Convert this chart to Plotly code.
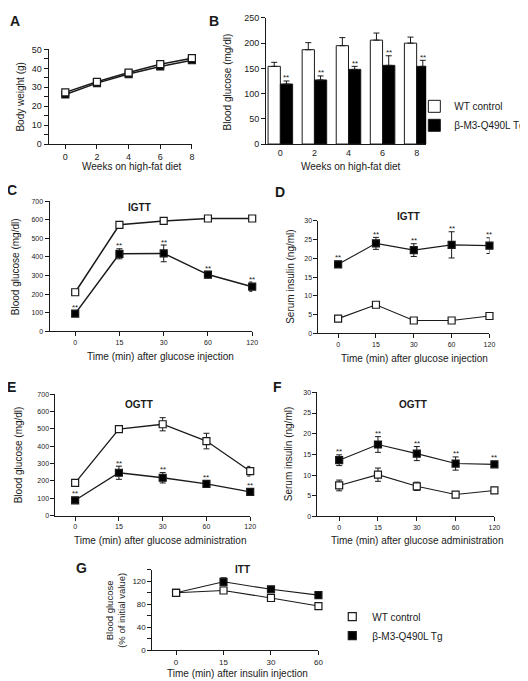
import plotly.graph_objects as go

W, H = 528, 681
FONT = "Liberation Sans, Arial, Helvetica, sans-serif"
INK = "#1a1a1a"

# ---------------- data ----------------
# A: body weight
weeks = [0, 2, 4, 6, 8]
bw_wt = [27.3, 32.9, 37.8, 42.2, 45.4]
bw_tg = [26.2, 32.2, 37.0, 41.0, 44.3]

# B: fasting blood glucose
bg_wt = [154, 187, 195, 206, 200]
bg_wt_err = [8, 14, 16, 14, 12]
bg_tg = [119, 127, 148, 156, 154]
bg_tg_err = [6, 8, 6, 19, 12]
bg_sig = ["**", "**", "**", "**", "**"]

gtt_times = ["0", "15", "30", "60", "120"]
itt_times = ["0", "15", "30", "60"]

# C: IGTT blood glucose
igtt_glu_wt = [210, 573, 594, 607, 607]
igtt_glu_wt_err = [15, 15, 8, 8, 8]
igtt_glu_tg = [95, 417, 419, 305, 240]
igtt_glu_tg_err = [8, 27, 45, 17, 25]
igtt_glu_sig = ["**", "**", "**", "**", "**"]

# D: IGTT serum insulin
igtt_ins_wt = [3.9, 7.6, 3.4, 3.4, 4.6]
igtt_ins_wt_err = [0.4, 0.5, 0.3, 0.3, 0.4]
igtt_ins_tg = [18.4, 24.0, 22.2, 23.6, 23.4]
igtt_ins_tg_err = [0.8, 1.6, 1.7, 3.5, 2.1]
igtt_ins_sig = ["**", "**", "**", "**", "**"]

# E: OGTT blood glucose
ogtt_glu_wt = [188, 499, 527, 430, 256]
ogtt_glu_wt_err = [10, 8, 38, 45, 28]
ogtt_glu_tg = [88, 247, 218, 183, 137]
ogtt_glu_tg_err = [10, 38, 30, 18, 10]
ogtt_glu_sig = ["**", "**", "**", "**", "**"]

# F: OGTT serum insulin
ogtt_ins_wt = [7.5, 10.1, 7.3, 5.3, 6.3]
ogtt_ins_wt_err = [1.3, 1.6, 1.0, 0.3, 0.6]
ogtt_ins_tg = [13.6, 17.4, 15.2, 12.8, 12.6]
ogtt_ins_tg_err = [1.3, 1.9, 1.7, 1.6, 0.7]
ogtt_ins_sig = ["**", "**", "**", "**", "**"]

# G: ITT
itt_wt = [100, 104, 91, 77]
itt_wt_err = [3, 3, 3, 6]
itt_tg = [100, 119, 106, 96]
itt_tg_err = [3, 7, 4, 3]

names = ["WT control", "β-M3-Q490L Tg"]

# ---------------- helpers ----------------
def xd(a, b):
    return [a / W, b / W]

def yd(top, bottom):
    return [1 - bottom / H, 1 - top / H]

fig = go.Figure()
annotations = []

def axname(n, kind):
    return kind if n == 1 else f"{kind}{n}"

def ann(text, xpx, ypx, size, bold=False, angle=0, xanchor="center"):
    annotations.append(dict(
        text=f"<b>{text}</b>" if bold else text, x=xpx / W, y=1 - ypx / H,
        xref="paper", yref="paper", showarrow=False, textangle=angle,
        xanchor=xanchor, yanchor="middle",
        font=dict(family=FONT, size=size, color=INK)))

def axis_style(tsize):
    return dict(showline=True, linecolor=INK, linewidth=1, ticks="outside",
                ticklen=4, tickwidth=1, tickcolor=INK, showgrid=False,
                zeroline=False, tickfont=dict(family=FONT, size=tsize, color=INK))

panel_geo = {}

def panel(n, xpx, ypx, xr, yr, tsize, xtickvals=None, xticktext=None,
          ydtick=None, yminor=None, xticks=True):
    xa = axis_style(tsize)
    xa.update(domain=xd(*xpx), range=xr, anchor=axname(n, "y"))
    if xtickvals is not None:
        xa.update(tickmode="array", tickvals=xtickvals, ticktext=xticktext)
    if not xticks:
        xa.update(ticks="")
    ya = axis_style(tsize)
    ya.update(domain=yd(*ypx), range=yr, anchor=axname(n, "x"))
    if ydtick is not None:
        ya.update(dtick=ydtick, tick0=0)
    if yminor is not None:
        ya.update(minor=dict(dtick=yminor, ticks="outside", ticklen=4,
                             tickcolor=INK, tickwidth=1))
    fig.update_layout({"xaxis" + ("" if n == 1 else str(n)): xa,
                       "yaxis" + ("" if n == 1 else str(n)): ya})
    panel_geo[n] = (ypx[1] - ypx[0]) / (yr[1] - yr[0])  # px per unit

def line_pair(n, nx, wt, wte, tg, tge, lw, msize=7):
    xs = list(range(nx))
    for vals, errs, fill in [(tg, tge, "black"), (wt, wte, "white")]:
        eb = dict(type="data", array=errs, color=INK, thickness=1, width=3) \
            if errs is not None else dict(visible=False)
        fig.add_trace(go.Scatter(
            x=xs, y=vals, mode="lines+markers", error_y=eb,
            line=dict(color=INK, width=lw),
            marker=dict(symbol="square", size=msize, color=fill,
                        line=dict(color=INK, width=1.2)),
            xaxis=axname(n, "x"), yaxis=axname(n, "y"),
            showlegend=False, cliponaxis=False, hoverinfo="skip"))

def stars(n, xs, vals, errs, sig, half_px=3.5, shift=3):
    ppu = panel_geo[n]
    for x, v, e, s in zip(xs, vals, errs, sig):
        if not s:
            continue
        top = v + max(e, half_px / ppu)
        annotations.append(dict(
            text=s, x=x, y=top, xref=axname(n, "x"), yref=axname(n, "y"),
            showarrow=False, yanchor="middle", yshift=shift,
            font=dict(family=FONT, size=8, color=INK)))

# ---------------- Panel A ----------------
panel(1, (41, 186), (37, 133), [-1.06, 8], [0, 50], 9,
      xtickvals=weeks, xticktext=[str(w) for w in weeks], ydtick=10, yminor=5)
fig.add_trace(go.Scatter(x=weeks, y=bw_tg, mode="lines+markers",
                         line=dict(color=INK, width=1.5),
                         marker=dict(symbol="square", size=7, color="black",
                                     line=dict(color=INK, width=1.2)),
                         xaxis="x", yaxis="y", showlegend=False, cliponaxis=False))
fig.add_trace(go.Scatter(x=weeks, y=bw_wt, mode="lines+markers",
                         line=dict(color=INK, width=1.5),
                         marker=dict(symbol="square", size=7, color="white",
                                     line=dict(color=INK, width=1.2)),
                         xaxis="x", yaxis="y", showlegend=False, cliponaxis=False))

# ---------------- Panel B ----------------
BARGAP = 0.28
bx = list(range(len(weeks)))
panel(2, (261, 423), (5, 133), [-0.42, 4.28], [0, 250], 9,
      xtickvals=bx, xticktext=[str(w) for w in weeks], ydtick=50, xticks=False)
for vals, errs, fill, nm in [(bg_wt, bg_wt_err, "white", names[0]),
                             (bg_tg, bg_tg_err, "black", names[1])]:
    fig.add_trace(go.Bar(
        x=bx, y=vals, name=nm, legend="legend",
        marker=dict(color=fill, line=dict(color=INK, width=1)),
        error_y=dict(type="data", array=errs, arrayminus=[0] * len(errs),
                     symmetric=False, color=INK, thickness=1, width=3),
        xaxis="x2", yaxis="y2", hoverinfo="skip"))
off = (1 - BARGAP) / 4
stars(2, [i + off for i in bx], bg_tg, bg_tg_err, bg_sig, half_px=0, shift=3)

# ---------------- Panel C ----------------
panel(3, (42, 247), (191, 323), [-0.58, 4], [0, 700], 7,
      xtickvals=list(range(5)), xticktext=gtt_times, ydtick=100)
line_pair(3, 5, igtt_glu_wt, igtt_glu_wt_err, igtt_glu_tg, igtt_glu_tg_err, 1.5)
stars(3, range(5), igtt_glu_tg, igtt_glu_tg_err, igtt_glu_sig)

# ---------------- Panel D ----------------
panel(4, (314, 487), (211, 325), [-0.52, 4], [0, 30], 7,
      xtickvals=list(range(5)), xticktext=gtt_times, ydtick=5)
line_pair(4, 5, igtt_ins_wt, igtt_ins_wt_err, igtt_ins_tg, igtt_ins_tg_err, 1.1)
stars(4, range(5), igtt_ins_tg, igtt_ins_tg_err, igtt_ins_sig)

# ---------------- Panel E ----------------
panel(5, (48, 245), (387, 510), [-0.45, 4], [0, 700], 7,
      xtickvals=list(range(5)), xticktext=gtt_times, ydtick=100)
line_pair(5, 5, ogtt_glu_wt, ogtt_glu_wt_err, ogtt_glu_tg, ogtt_glu_tg_err, 1.3)
stars(5, range(5), ogtt_glu_tg, ogtt_glu_tg_err, ogtt_glu_sig)

# ---------------- Panel F ----------------
panel(6, (313, 492), (385, 511), [-0.56, 4], [0, 30], 7,
      xtickvals=list(range(5)), xticktext=gtt_times, ydtick=5)
line_pair(6, 5, ogtt_ins_wt, ogtt_ins_wt_err, ogtt_ins_tg, ogtt_ins_tg_err, 1.1)
stars(6, range(5), ogtt_ins_tg, ogtt_ins_tg_err, ogtt_ins_sig)

# ---------------- Panel G ----------------
panel(7, (146, 314), (565, 647), [-0.5, 3], [0, 140], 8,
      xtickvals=list(range(4)), xticktext=itt_times, ydtick=40, yminor=20)
line_pair(7, 4, itt_wt, itt_wt_err, itt_tg, itt_tg_err, 1.1)
for nm, fill in [(names[0], "white"), (names[1], "black")]:
    fig.add_trace(go.Scatter(x=[None], y=[None], mode="markers", name=nm,
                             legend="legend2",
                             marker=dict(symbol="square", size=8, color=fill,
                                         line=dict(color=INK, width=1.2)),
                             xaxis="x7", yaxis="y7"))

# ---------------- text ----------------
for letter, x, y in [("A", 7, 8), ("B", 208, 8), ("C", 4, 180), ("D", 275, 182),
                     ("E", 4, 380), ("F", 273, 380), ("G", 74, 563)]:
    ann(letter, x, y, 14, bold=True)

for t, x, y in [("IGTT", 133, 197), ("IGTT", 405, 207), ("OGTT", 133, 397),
                ("OGTT", 410, 397), ("ITT", 237, 565)]:
    ann(t, x, y, 10, bold=True)

ann("Body weight (g)", 13, 85, 10, angle=-90)
ann("Blood glucose (mg/dl)", 222, 70, 10, angle=-90)
ann("Blood glucose (mg/dl)", 7, 257, 10, angle=-90)
ann("Serum insulin (ng/ml)", 285, 268, 10, angle=-90)
ann("Blood glucose (mg/dl)", 11, 448, 10, angle=-90)
ann("Serum insulin (ng/ml)", 284, 448, 10, angle=-90)
ann("Blood glucose<br>(% of initial value)", 108, 606, 9.5, angle=-90)

ann("Weeks on high-fat diet", 125, 156, 10)
ann("Weeks on high-fat diet", 347, 156, 10)
ann("Time (min) after glucose injection", 154, 349, 10)
ann("Time (min) after glucose injection", 411, 351, 10)
ann("Time (min) after glucose administration", 154, 535, 10)
ann("Time (min) after glucose administration", 414, 535, 10)
ann("Time (min) after insulin injection", 232, 670, 10)

legend_common = dict(xanchor="left", yanchor="top", bgcolor="rgba(0,0,0,0)",
                     font=dict(family=FONT, size=10, color=INK),
                     tracegroupgap=0, itemclick=False, itemdoubleclick=False)
fig.update_layout(
    width=W, height=H, autosize=False,
    margin=dict(l=0, r=0, t=0, b=0),
    paper_bgcolor="white", plot_bgcolor="white",
    barmode="group", bargap=BARGAP, bargroupgap=0,
    font=dict(family=FONT, color=INK),
    annotations=annotations,
    legend=dict(x=411 / W, y=1 - 80 / H, **legend_common),
    legend2=dict(x=328 / W, y=1 - 598 / H, **legend_common),
    hovermode=False,
)

fig.write_html("out.html")
